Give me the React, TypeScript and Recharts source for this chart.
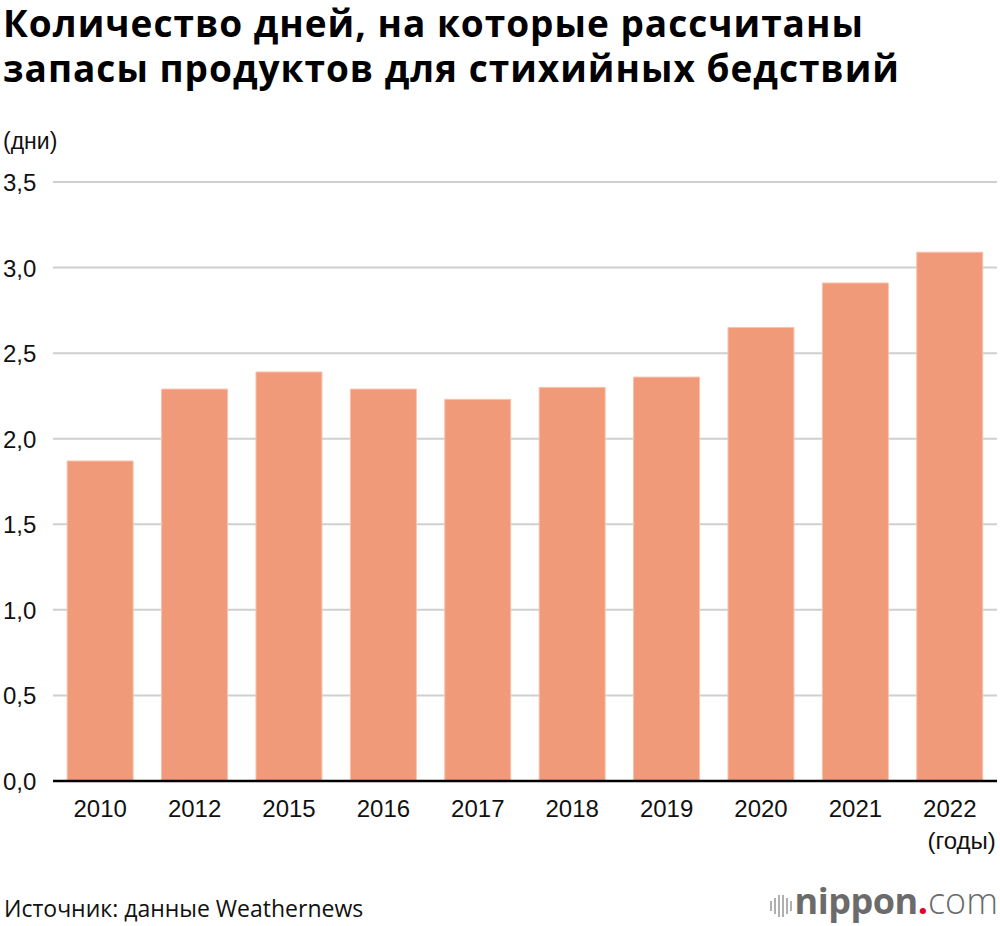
import React from "react";
import { BarChart, Bar, XAxis, YAxis, CartesianGrid } from "recharts";

const YEARS = ["2010", "2012", "2015", "2016", "2017", "2018", "2019", "2020", "2021", "2022"];
const DAYS = [1.87, 2.29, 2.39, 2.29, 2.23, 2.3, 2.36, 2.65, 2.91, 3.09];
const Y_TICKS = [0, 0.5, 1, 1.5, 2, 2.5, 3, 3.5];

const TITLE = ["Количество дней, на которые рассчитаны", "запасы продуктов для стихийных бедствий"];
const Y_UNIT = "(дни)";
const X_UNIT = "(годы)";
const SOURCE = "Источник: данные Weathernews";

const BAR_COLOR = "#f19a7a";
const TICK_FONT = "'Liberation Sans', Arial, sans-serif";
const TEXT_FONT = "'Open Sans', 'Noto Sans', sans-serif";

const data = YEARS.map((year, i) => ({ year, days: DAYS[i] }));

function YTick({ y, payload }: any) {
  return (
    <text x={3} y={y} dy={9} textAnchor="start" fontSize={24} fontFamily={TICK_FONT} fill="#111">
      {payload.value.toFixed(1).replace(".", ",")}
    </text>
  );
}

function XTick({ x, y, payload, index }: any) {
  const last = index === YEARS.length - 1;
  return (
    <g>
      <text x={x} y={y} dy={28} textAnchor="middle" fontSize={24} fontFamily={TICK_FONT} fill="#111">
        {payload.value}
      </text>
      {last && (
        <text x={x + 46} y={y} dy={60} textAnchor="end" fontSize={24} fontFamily={TICK_FONT} fill="#111">
          {X_UNIT}
        </text>
      )}
    </g>
  );
}

// grey sound-wave bars of the nippon.com logo
const LOGO_BARS = [10, 16, 22, 22, 16, 10];

const titleStyle: React.CSSProperties = {
  position: "absolute",
  left: 3,
  fontFamily: TEXT_FONT,
  fontWeight: 700,
  fontSize: 37,
  letterSpacing: 1,
  lineHeight: "40px",
  color: "#000",
  whiteSpace: "nowrap",
};

export default function App() {
  return (
    <div style={{ position: "absolute", left: 0, top: 0, width: 1000, height: 926, background: "#fff", overflow: "hidden" }}>
      <div style={{ ...titleStyle, top: 3 }}>{TITLE[0]}</div>
      <div style={{ ...titleStyle, top: 48 }}>{TITLE[1]}</div>
      <div style={{ position: "absolute", left: 3, top: 128, fontFamily: TICK_FONT, fontSize: 23, color: "#111" }}>
        {Y_UNIT}
      </div>

      <div style={{ position: "absolute", left: 0, top: 0 }}>
        <BarChart width={1000} height={926} data={data} margin={{ top: 182, right: 3, bottom: 0, left: 0 }} barCategoryGap="15%">
          <CartesianGrid vertical={false} stroke="#cfcfcf" strokeWidth={2} />
          <YAxis
            width={53}
            domain={[0, 3.5]}
            ticks={Y_TICKS}
            axisLine={false}
            tickLine={false}
            tick={<YTick />}
            interval={0}
          />
          <XAxis
            dataKey="year"
            axisLine={{ stroke: "#000", strokeWidth: 2.5 }}
            tickLine={false}
            tick={<XTick />}
            interval={0}
            height={145}
          />
          <Bar dataKey="days" fill={BAR_COLOR} stroke="#f7c3ae" strokeWidth={1} isAnimationActive={false} />
        </BarChart>
      </div>

      <div
        style={{
          position: "absolute",
          left: 4,
          top: 893,
          fontFamily: TEXT_FONT,
          fontSize: 23,
          lineHeight: "30px",
          color: "#111",
          whiteSpace: "nowrap",
        }}
      >
        {SOURCE}
      </div>

      <svg width={26} height={30} style={{ position: "absolute", left: 769, top: 891 }}>
        {LOGO_BARS.map((h, i) => (
          <rect key={i} x={1 + i * 4} y={15 - h / 2} width={2} height={h} fill="#b0b0b0" />
        ))}
      </svg>
      <div
        style={{
          position: "absolute",
          right: 2,
          top: 881,
          fontFamily: TEXT_FONT,
          fontSize: 36,
          lineHeight: "40px",
          color: "#6b6b6b",
          whiteSpace: "nowrap",
        }}
      >
        <span style={{ fontWeight: 700, letterSpacing: -0.5 }}>nippon</span>
        <span style={{ fontWeight: 700, color: "#e4002b" }}>.</span>
        <span style={{ fontWeight: 300 }}>com</span>
      </div>
    </div>
  );
}
